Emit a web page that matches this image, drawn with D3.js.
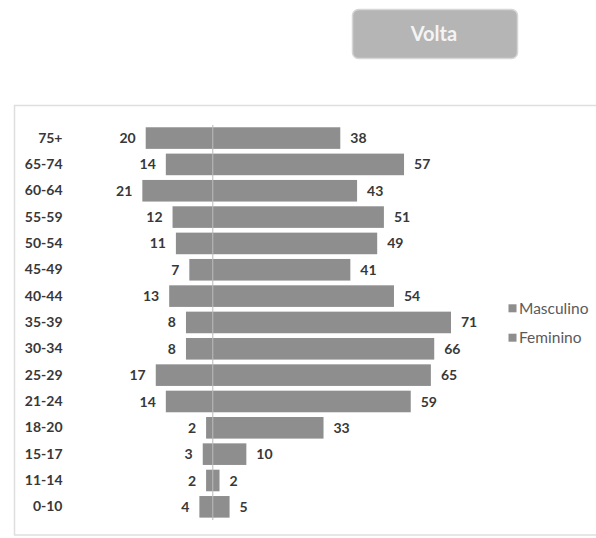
<!DOCTYPE html>
<html>
<head>
<meta charset="utf-8">
<script src="https://cdn.jsdelivr.net/npm/d3@7"></script>
<style>
  html, body { margin: 0; padding: 0; background: #fff; }
  svg { display: block; }
</style>
</head>
<body>
<svg id="chart" width="596" height="538"></svg>
<script>
const categories = ["75+", "65-74", "60-64", "55-59", "50-54", "45-49", "40-44", "35-39", "30-34", "25-29", "21-24", "18-20", "15-17", "11-14", "0-10"];
const masculino = [20, 14, 21, 12, 11, 7, 13, 8, 8, 17, 14, 2, 3, 2, 4];
const feminino = [38, 57, 43, 51, 49, 41, 54, 71, 66, 65, 59, 33, 10, 2, 5];
const seriesNames = ["Masculino", "Feminino"];
const buttonLabel = "Volta";

const svg = d3.select("#chart");
const barColor = "#8e8e8e";
const font = "Lato, 'Open Sans', sans-serif";

// Button
const btn = svg.append("g");
btn.append("rect")
  .attr("x", 352.5).attr("y", 9.5).attr("width", 165).attr("height", 49)
  .attr("rx", 6).attr("fill", "#b5b5b5").attr("stroke", "#d6d6d6").attr("stroke-width", 1.5);
btn.append("text")
  .attr("x", 434).attr("y", 41)
  .attr("text-anchor", "middle")
  .attr("font-family", font).attr("font-weight", 700).attr("font-size", 20)
  .attr("fill", "#f4f4f4").text(buttonLabel);

// Frame
svg.append("rect")
  .attr("x", 14.5).attr("y", 105.5).attr("width", 620).attr("height", 429.5)
  .attr("fill", "none").attr("stroke", "#dedede").attr("stroke-width", 1.5);

// Scales
const center = 212.8;
const pxPerUnit = 3.355;
const x = d3.scaleLinear().domain([-25, 75]).range([center - 25 * pxPerUnit, center + 75 * pxPerUnit]);
const y = d3.scaleBand().domain(categories).range([124.9, 520]).paddingInner(0.18).paddingOuter(0.09);

const rows = categories.map((c, i) => ({ c, m: masculino[i], f: feminino[i] }));

const g = svg.append("g");

// Bars (masculino to the left, feminino to the right)
g.selectAll("rect.m").data(rows).join("rect").attr("class", "m")
  .attr("x", d => x(-d.m)).attr("y", d => y(d.c))
  .attr("width", d => x(0) - x(-d.m)).attr("height", y.bandwidth())
  .attr("fill", barColor);
g.selectAll("rect.f").data(rows).join("rect").attr("class", "f")
  .attr("x", d => x(0)).attr("y", d => y(d.c))
  .attr("width", d => x(d.f) - x(0)).attr("height", y.bandwidth())
  .attr("fill", barColor);

// Center axis line
g.append("line")
  .attr("x1", x(0)).attr("x2", x(0))
  .attr("y1", y.range()[0]).attr("y2", y.range()[1])
  .attr("stroke", "#b8b8b8").attr("stroke-width", 1);

// Category labels
const yAxis = d3.axisLeft(y).tickSize(0).tickPadding(0);
const ax = svg.append("g").attr("transform", "translate(62.5,0)").call(yAxis);
ax.select(".domain").remove();
ax.selectAll("text")
  .attr("font-family", font).attr("font-weight", 700).attr("font-size", 14)
  .attr("fill", "#383838");

// Value labels
g.selectAll("text.mv").data(rows).join("text").attr("class", "mv")
  .attr("x", d => x(-d.m) - 10).attr("y", d => y(d.c) + y.bandwidth() / 2)
  .attr("dy", "0.36em").attr("text-anchor", "end")
  .attr("font-family", font).attr("font-weight", 700).attr("font-size", 14)
  .attr("fill", "#383838").text(d => d.m);
g.selectAll("text.fv").data(rows).join("text").attr("class", "fv")
  .attr("x", d => x(d.f) + 10).attr("y", d => y(d.c) + y.bandwidth() / 2)
  .attr("dy", "0.36em").attr("text-anchor", "start")
  .attr("font-family", font).attr("font-weight", 700).attr("font-size", 14)
  .attr("fill", "#383838").text(d => d.f);

// Legend
const leg = svg.append("g");
seriesNames.forEach((name, i) => {
  const cy = 308.3 + i * 29.4;
  leg.append("rect").attr("x", 508.5).attr("y", cy - 4).attr("width", 8).attr("height", 8).attr("fill", barColor);
  leg.append("text").attr("x", 519).attr("y", cy).attr("dy", "0.35em")
    .attr("font-family", font).attr("font-size", 15.5).attr("fill", "#5a5a5a").text(name);
});
</script>
</body>
</html>
